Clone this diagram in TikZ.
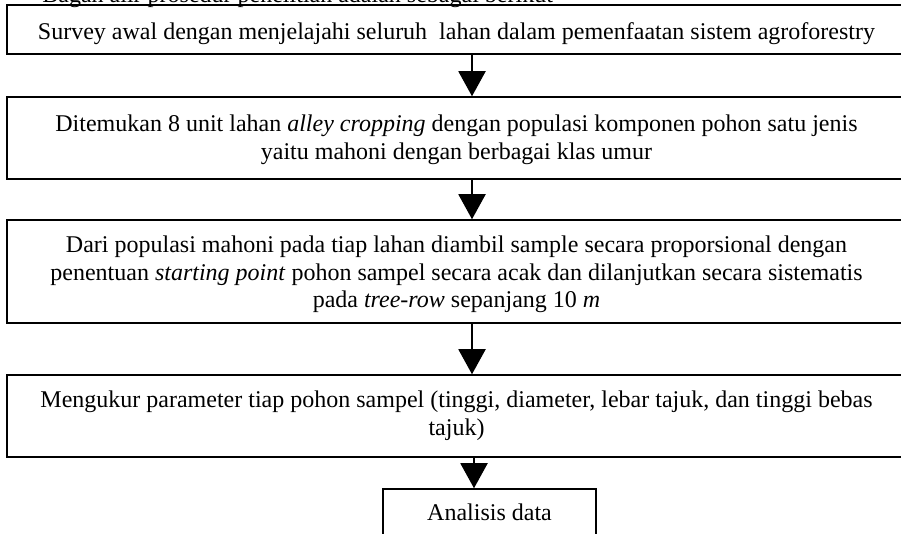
\documentclass[tikz,border=0pt]{standalone}
\usepackage{fontspec}
\setmainfont{Liberation Serif}
\usetikzlibrary{arrows.meta}
\tikzset{
  stepbox/.style={draw=black, line width=0.75pt, inner sep=0pt},
  steptext/.style={align=center, inner sep=0pt,
    font=\fontsize{12pt}{13.8pt}\selectfont},
  flowarrow/.style={draw=black, line width=1pt,
    -{Triangle[length=12.5pt,width=13.5pt]}},
  plain/.style={inner sep=0pt, font=\fontsize{12pt}{13.8pt}\selectfont}
}
\begin{document}
\begin{tikzpicture}[x=0.5pt,y=-0.5pt]
\useasboundingbox (0,0) rectangle (901,534);
\clip (0,0) rectangle (901,534);
\fill[white] (0,0) rectangle (901,534);
\node[plain, anchor=base west] (hdr) at (42,3) {Bagan alir prosedur penelitian adalah sebagai berikut};
% boxes
\node[stepbox, minimum width=449.5pt, minimum height=24.5pt] (b1) at (456.5,29.5) {};
\node[stepbox, minimum width=449.5pt, minimum height=41pt] (b2) at (456.5,138) {};
\node[stepbox, minimum width=449.5pt, minimum height=51.5pt] (b3) at (456.5,271.5) {};
\node[stepbox, minimum width=449.5pt, minimum height=41pt] (b4) at (456.5,416) {};
\node[stepbox, minimum width=106.5pt, minimum height=25.5pt] (b5) at (489.5,514.5) {};
% texts
\node[steptext] (t1) at ([yshift=-2pt]b1.center)
  {Survey awal dengan menjelajahi seluruh\ \ lahan dalam pemenfaatan sistem agroforestry};
\node[steptext] (t2) at ([yshift=-1pt]b2.center)
  {Ditemukan 8 unit lahan \textit{alley cropping} dengan populasi komponen pohon satu jenis\\
   yaitu mahoni dengan berbagai klas umur};
\node[steptext] (t3) at ([yshift=-1.5pt]b3.center)
  {Dari populasi mahoni pada tiap lahan diambil sample secara proporsional dengan\\
   penentuan \textit{starting point} pohon sampel secara acak dan dilanjutkan secara sistematis\\
   pada \textit{tree-row} sepanjang 10 \textit{m}};
\node[steptext] (t4) at (b4.center)
  {Mengukur parameter tiap pohon sampel (tinggi, diameter, lebar tajuk, dan tinggi bebas\\
   tajuk)};
\node[steptext] (t5) at ([yshift=1pt]b5.center) {Analisis data};
% arrows
\coordinate (ax) at (472,0);
\coordinate (ax2) at (474,0);
\draw[flowarrow] (b1.south -| ax) -- (b2.north -| ax);
\draw[flowarrow] (b2.south -| ax) -- (b3.north -| ax);
\draw[flowarrow] (b3.south -| ax) -- (b4.north -| ax);
\draw[flowarrow] (b4.south -| ax2) -- (b5.north -| ax2);
\end{tikzpicture}
\end{document}
